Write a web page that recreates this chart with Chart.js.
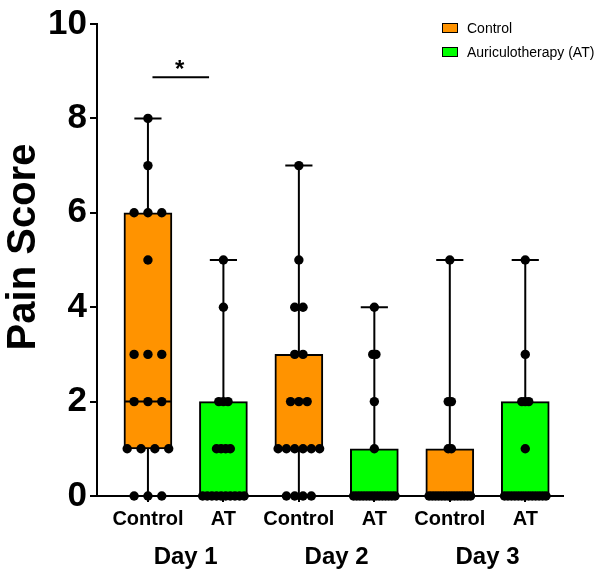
<!DOCTYPE html>
<html lang="en">

<head>
    <meta charset="UTF-8">
    <meta name="viewport" content="width=device-width, initial-scale=1.0">
    <title>Pain Score</title>

    <script src="https://cdn.jsdelivr.net/npm/chart.js"></script>

    <style>
        body {
            margin: 0;
            background: #fff;
        }

        .wrap {
            position: relative;
            width: 600px;
            height: 577px;
        }

        .legenda {
            position: absolute;
            left: 442px;
            top: 16px;
            font-family: 'Liberation Sans', Arial, sans-serif;
            font-size: 14px;
            color: #000;
        }

        .legenda .item {
            display: flex;
            align-items: center;
            height: 24px;
        }

        .legenda .box {
            width: 14px;
            height: 8px;
            border: 1.5px solid #000;
            margin-right: 9px;
        }
    </style>
</head>

<body>
    <div class="wrap">
        <canvas id="myChartCanvas1"></canvas>
        <div class="legenda">
            <div class="item"><span class="box" style="background:#ff9300"></span>Control</div>
            <div class="item"><span class="box" style="background:#00ff00"></span>Auriculotherapy (AT)</div>
        </div>
    </div>

    <script>
        // categories and tick labels
        const groupLabels = ['Control', 'AT', 'Control', 'AT', 'Control', 'AT'];
        const dayLabels = ['Day 1', 'Day 2', 'Day 3'];
        const yTicks = [0, 2, 4, 6, 8, 10];
        const yTitle = 'Pain Score';

        // individual pain scores
        const controlDay1 = [8, 7, 6, 6, 6, 5, 3, 3, 3, 2, 2, 2, 1, 1, 1, 1, 0, 0, 0];
        const atDay1 = [5, 4, 2, 2, 2, 1, 1, 1, 1, 0, 0, 0, 0, 0, 0, 0, 0, 0, 0];
        const controlDay2 = [7, 5, 4, 4, 3, 3, 2, 2, 2, 1, 1, 1, 1, 1, 1, 0, 0, 0, 0];
        const atDay2 = [4, 3, 3, 2, 1, 0, 0, 0, 0, 0, 0, 0, 0, 0, 0, 0, 0, 0, 0];
        const controlDay3 = [5, 2, 2, 1, 1, 0, 0, 0, 0, 0, 0, 0, 0, 0, 0, 0, 0, 0, 0];
        const atDay3 = [5, 3, 2, 2, 2, 1, 0, 0, 0, 0, 0, 0, 0, 0, 0, 0, 0, 0, 0];

        // significance: Day 1 Control vs AT
        const sigPairs = [[0, 1]];
        const sigTexts = ['*'];
        const sigLevels = [8.87];

        const grupos = [controlDay1, atDay1, controlDay2, atDay2, controlDay3, atDay3];
        const corControl = '#ff9300';
        const corAT = '#00ff00';
        const fonte = '"Liberation Sans", Arial, sans-serif';

        // quartiles like Prism (n+1 method)
        function quantil(ordenado, p) {
            const n = ordenado.length;
            const pos = p * (n + 1);
            if (pos <= 1) return ordenado[0];
            if (pos >= n) return ordenado[n - 1];
            const lo = Math.floor(pos);
            const frac = pos - lo;
            return ordenado[lo - 1] + frac * (ordenado[lo] - ordenado[lo - 1]);
        }

        const stats = grupos.map(g => {
            const s = [...g].sort((a, b) => a - b);
            return {
                min: s[0],
                q1: quantil(s, 0.25),
                med: quantil(s, 0.5),
                q3: quantil(s, 0.75),
                max: s[s.length - 1]
            };
        });

        // boxes (floating bars)
        const boxControl = [];
        const boxAT = [];
        stats.forEach((st, i) => {
            const item = { x: i, y: [st.q1, st.q3] };
            if (i % 2 == 0) boxControl.push(item); else boxAT.push(item);
        });

        // whiskers + caps, broken by nulls
        const capHalf = 0.18;
        const whiskers = [];
        stats.forEach((st, i) => {
            whiskers.push({ x: i, y: st.min }, { x: i, y: st.max }, { x: i, y: null });
            whiskers.push({ x: i - capHalf, y: st.max }, { x: i + capHalf, y: st.max }, { x: i, y: null });
            whiskers.push({ x: i - capHalf, y: st.min }, { x: i + capHalf, y: st.min }, { x: i, y: null });
        });

        const medHalf = 0.31;
        const medians = [];
        stats.forEach((st, i) => {
            medians.push({ x: i - medHalf, y: st.med }, { x: i + medHalf, y: st.med }, { x: i, y: null });
        });

        // dots spread sideways, rows squeezed to fit the widest row
        const dots = [];
        grupos.forEach((g, i) => {
            const contagem = {};
            g.forEach(v => { contagem[v] = (contagem[v] || 0) + 1; });
            const maxCount = Math.max(...Object.values(contagem));
            const passo = maxCount > 1 ? Math.min(0.19, 0.55 / (maxCount - 1)) : 0;
            Object.keys(contagem).forEach(k => {
                const n = contagem[k];
                for (let j = 0; j < n; j++) {
                    dots.push({ x: i + (j - (n - 1) / 2) * passo, y: Number(k) });
                }
            });
        });

        const sigPlugin = {
            id: 'sigPlugin',
            afterDatasetsDraw(chart) {
                const ctx = chart.ctx;
                const x = chart.scales.x;
                const y = chart.scales.y;
                sigPairs.forEach((par, i) => {
                    const x0 = x.getPixelForValue(par[0] + 0.06);
                    const x1 = x.getPixelForValue(par[1] - 0.19);
                    const yy = y.getPixelForValue(sigLevels[i]);
                    ctx.save();
                    ctx.strokeStyle = '#000';
                    ctx.lineWidth = 2;
                    ctx.beginPath();
                    ctx.moveTo(x0, yy);
                    ctx.lineTo(x1, yy);
                    ctx.stroke();
                    ctx.fillStyle = '#000';
                    ctx.font = 'bold 24px ' + fonte;
                    ctx.textAlign = 'center';
                    ctx.textBaseline = 'alphabetic';
                    ctx.fillText(sigTexts[i], (x0 + x1) / 2 - 1, yy);
                    ctx.restore();
                });
            }
        };

        // y title drawn by hand so it sits a bit above the axis middle, like the original
        const tituloPlugin = {
            id: 'tituloPlugin',
            afterDraw(chart) {
                const ctx = chart.ctx;
                const y = chart.scales.y;
                const meio = (y.getPixelForValue(0) + y.getPixelForValue(10)) / 2 - 13;
                ctx.save();
                ctx.translate(24, meio);
                ctx.rotate(-Math.PI / 2);
                ctx.fillStyle = '#000';
                ctx.font = 'bold 40px ' + fonte;
                ctx.textAlign = 'center';
                ctx.textBaseline = 'middle';
                ctx.fillText(yTitle, 0, 0);
                ctx.restore();
            }
        };

        Chart.defaults.font.family = fonte;
        Chart.defaults.color = '#000';

        const config = {
            type: 'bar',
            data: {
                datasets: [
                    {
                        type: 'scatter',
                        label: 'pontos',
                        data: dots,
                        backgroundColor: '#000',
                        borderWidth: 0,
                        pointRadius: 4.7,
                        clip: false,
                        order: 0
                    },
                    {
                        type: 'line',
                        label: 'mediana',
                        data: medians,
                        borderColor: '#000',
                        borderWidth: 2,
                        pointRadius: 0,
                        spanGaps: false,
                        clip: false,
                        order: 1
                    },
                    {
                        label: 'Control',
                        data: boxControl,
                        backgroundColor: corControl,
                        borderColor: '#000',
                        borderWidth: 2,
                        borderSkipped: false,
                        barThickness: 48,
                        grouped: false,
                        order: 2
                    },
                    {
                        label: 'Auriculotherapy (AT)',
                        data: boxAT,
                        backgroundColor: corAT,
                        borderColor: '#000',
                        borderWidth: 2,
                        borderSkipped: false,
                        barThickness: 48,
                        grouped: false,
                        order: 2
                    },
                    {
                        type: 'line',
                        label: 'bigodes',
                        data: whiskers,
                        borderColor: '#000',
                        borderWidth: 2,
                        pointRadius: 0,
                        spanGaps: false,
                        clip: false,
                        order: 3
                    }
                ]
            },
            options: {
                responsive: true,
                maintainAspectRatio: false,
                animation: false,
                events: [],
                layout: {
                    padding: { left: 0, right: 37, top: 20, bottom: 0 }
                },
                plugins: {
                    legend: { display: false },
                    tooltip: { enabled: false }
                },
                scales: {
                    x: {
                        type: 'linear',
                        position: 'bottom',
                        min: -0.675,
                        max: 5.5,
                        offset: false,
                        weight: 0,
                        border: { display: true, color: '#000', width: 2 },
                        grid: {
                            display: true,
                            drawOnChartArea: false,
                            drawTicks: true,
                            tickLength: 6,
                            color: '#000',
                            lineWidth: 2,
                            offset: false
                        },
                        ticks: {
                            autoSkip: false,
                            maxRotation: 0,
                            padding: 5,
                            font: { size: 20, weight: 'bold' },
                            callback: function (valor) {
                                return groupLabels[valor] !== undefined ? groupLabels[valor] : '';
                            }
                        },
                        afterBuildTicks: function (scale) {
                            scale.ticks = groupLabels.map((g, i) => ({ value: i }));
                        },
                        afterFit: function (scale) {
                            scale.height = 40;
                        }
                    },
                    x2: {
                        type: 'linear',
                        position: 'bottom',
                        min: -0.675,
                        max: 5.5,
                        offset: false,
                        weight: 1,
                        border: { display: false },
                        grid: { display: false, drawTicks: false, tickLength: 0 },
                        ticks: {
                            autoSkip: false,
                            maxRotation: 0,
                            padding: 7,
                            font: { size: 24, weight: 'bold' },
                            callback: function (valor) {
                                const i = Math.round((valor - 0.5) / 2);
                                return dayLabels[i] !== undefined ? dayLabels[i] : '';
                            }
                        },
                        afterBuildTicks: function (scale) {
                            scale.ticks = dayLabels.map((d, i) => ({ value: i * 2 + 0.5 }));
                        },
                        afterFit: function (scale) {
                            scale.height = 41;
                        }
                    },
                    y: {
                        type: 'linear',
                        min: 0,
                        max: 10,
                        border: { display: true, color: '#000', width: 2 },
                        grid: {
                            drawOnChartArea: false,
                            drawTicks: true,
                            tickLength: 7,
                            color: '#000',
                            lineWidth: 2
                        },
                        ticks: {
                            padding: 3,
                            font: { size: 35, weight: 'bold' },
                            callback: function (valor) {
                                return yTicks.includes(valor) ? String(valor) : '';
                            }
                        },
                        afterBuildTicks: function (scale) {
                            scale.ticks = yTicks.map(v => ({ value: v }));
                        },
                        title: { display: false },
                        afterFit: function (scale) {
                            scale.width = 97;
                        }
                    }
                }
            },
            plugins: [sigPlugin, tituloPlugin]
        };

        const ctx = document.getElementById('myChartCanvas1').getContext('2d');
        new Chart(ctx, config);
    </script>
</body>

</html>
